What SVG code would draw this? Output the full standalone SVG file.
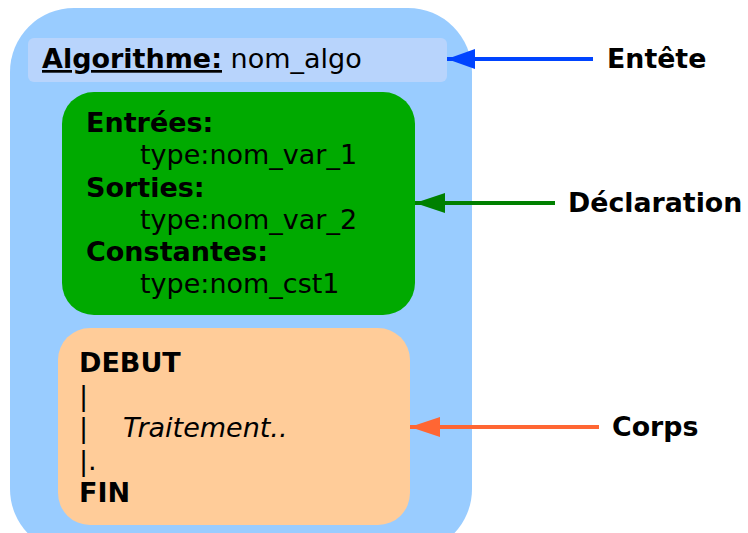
<svg xmlns="http://www.w3.org/2000/svg" width="748" height="533" viewBox="0 0 748 533">
<defs>
<style>
text{font-family:"DejaVu Sans","Liberation Sans",sans-serif;font-size:27px;fill:#000}
.b{font-weight:bold}
.lbl{font-weight:bold;font-size:26.8px}
.conn{stroke-width:4;fill:none}
</style>
<marker id="ahBlue" markerUnits="userSpaceOnUse" markerWidth="30" markerHeight="22" refX="28" refY="10" orient="auto"><path d="M0,0 L28,10 L0,20 Z" fill="#0044ff"/></marker>
<marker id="ahGreen" markerUnits="userSpaceOnUse" markerWidth="32" markerHeight="22" refX="30" refY="10" orient="auto"><path d="M0,0 L30,10 L0,20 Z" fill="#008000"/></marker>
<marker id="ahOrange" markerUnits="userSpaceOnUse" markerWidth="32" markerHeight="22" refX="30" refY="10" orient="auto"><path d="M0,0 L30,10 L0,20 Z" fill="#ff6633"/></marker>
</defs>
<g id="algorithme">
<rect x="10" y="8" width="462" height="545" rx="64" ry="64" fill="#99ccff"/>
</g>
<g id="entete-box">
<rect x="28" y="38" width="419" height="44" rx="6" fill="#b8d4fc"/>
<text x="42" y="68" font-size="27.4"><tspan class="b" text-decoration="underline">Algorithme:</tspan> nom_algo</text>
</g>
<g id="declaration-box">
<rect x="62" y="92" width="353" height="223" rx="32" fill="#00aa00"/>
<text class="b" x="86" y="132">Entrées:</text>
<text x="140" y="164">type:nom_var_1</text>
<text class="b" x="86" y="197">Sorties:</text>
<text x="140" y="229">type:nom_var_2</text>
<text class="b" x="86" y="261">Constantes:</text>
<text x="140" y="293">type:nom_cst1</text>
</g>
<g id="corps-box">
<rect x="58" y="328" width="352" height="197" rx="32" fill="#ffcc99"/>
<text class="b" x="79" y="372">DEBUT</text>
<text x="79" y="405">|</text>
<text x="79" y="437">|</text>
<text x="123" y="437" font-style="italic">Traitement..</text>
<text x="79" y="470">|.</text>
<text class="b" x="79" y="502">FIN</text>
</g>
<g id="connectors">
<line class="conn" x1="593" y1="59" x2="447" y2="59" stroke="#0044ff" marker-end="url(#ahBlue)"/>
<line class="conn" x1="555" y1="203" x2="415" y2="203" stroke="#008000" marker-end="url(#ahGreen)"/>
<line class="conn" x1="599" y1="427" x2="410" y2="427" stroke="#ff6633" marker-end="url(#ahOrange)"/>
</g>
<g id="label-entete"><text class="lbl" x="607" y="68">Entête</text></g>
<g id="label-declaration"><text class="lbl" x="568" y="212">Déclaration</text></g>
<g id="label-corps"><text class="lbl" x="612" y="436">Corps</text></g>
</svg>
